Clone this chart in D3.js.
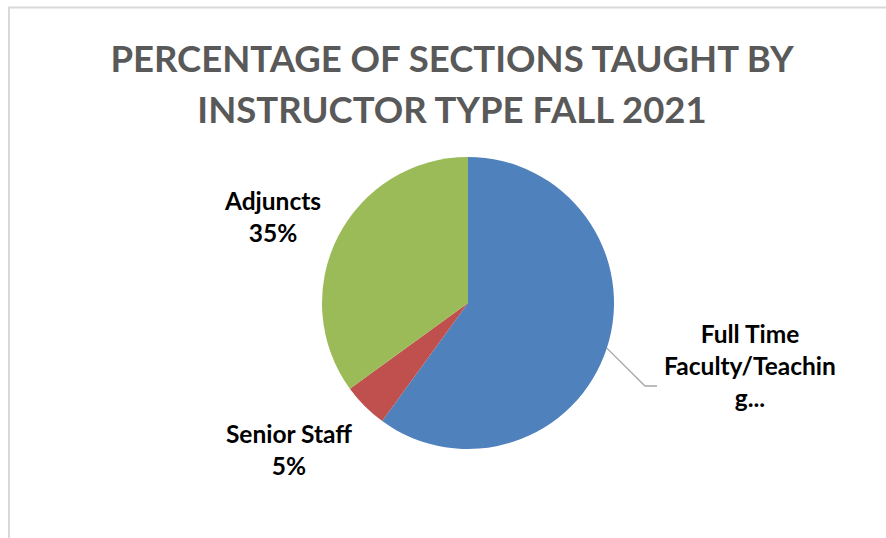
<!DOCTYPE html>
<html>
<head>
<meta charset="utf-8">
<script src="https://cdn.jsdelivr.net/npm/d3@7"></script>
<style>
  body { margin: 0; background: #fff; }
  svg { display: block; font-family: Lato, "Open Sans", sans-serif; }
</style>
</head>
<body>
<svg id="chart" width="886" height="538"></svg>
<script>
const categories = ["Full Time Faculty/Teaching Staff", "Senior Staff", "Adjuncts"];
const values = [60, 5, 35];
const colors = ["#4F81BD", "#C0504D", "#9BBB59"];
const titleLines = ["PERCENTAGE OF SECTIONS TAUGHT BY", "INSTRUCTOR TYPE FALL 2021"];

// label lines as shown in the chart (the first one is cut off)
const labelLines = [
  ["Full Time", "Faculty/Teachin", "g..."],
  ["Senior Staff", "5%"],
  ["Adjuncts", "35%"]
];
const labelPos = [
  { x: 750, y: 343 },
  { x: 289, y: 443 },
  { x: 273, y: 210 }
];

const svg = d3.select("#chart");
const cx = 468, cy = 303, r = 146;

// chart frame (only left and top edges visible)
svg.append("rect")
  .attr("x", 9).attr("y", 7.5)
  .attr("width", 900).attr("height", 560)
  .attr("fill", "none")
  .attr("stroke", "#d9d9d9")
  .attr("stroke-width", 2);

svg.selectAll(".title")
  .data(titleLines)
  .join("text")
  .attr("class", "title")
  .attr("x", 452)
  .attr("y", (d, i) => 72 + i * 51)
  .attr("text-anchor", "middle")
  .attr("font-size", 36.5)
  .attr("font-weight", "bold")
  .attr("fill", "#595959")
  .text((d) => d);

const pie = d3.pie().sort(null).value((d) => d);
const arcs = pie(values);
const arc = d3.arc().innerRadius(0).outerRadius(r);

const g = svg.append("g").attr("transform", `translate(${cx},${cy})`);

g.selectAll("path")
  .data(arcs)
  .join("path")
  .attr("d", arc)
  .attr("fill", (d, i) => colors[i]);

// leader line for the first slice
const a0 = (arcs[0].startAngle + arcs[0].endAngle) / 2;
const p0 = [cx + r * Math.sin(a0), cy - r * Math.cos(a0)];
svg.append("polyline")
  .attr("points", [p0, [645, 386], [657, 386]].map((p) => p.join(",")).join(" "))
  .attr("fill", "none")
  .attr("stroke", "#a6a6a6")
  .attr("stroke-width", 1.3);

labelLines.forEach((lines, i) => {
  svg.append("text")
    .attr("x", labelPos[i].x)
    .attr("y", labelPos[i].y)
    .attr("text-anchor", "middle")
    .attr("font-size", 24.5)
    .attr("font-weight", "bold")
    .attr("fill", "#000")
    .selectAll("tspan")
    .data(lines)
    .join("tspan")
    .attr("x", labelPos[i].x)
    .attr("dy", (d, j) => (j === 0 ? 0 : 32))
    .text((d) => d);
});
</script>
</body>
</html>
